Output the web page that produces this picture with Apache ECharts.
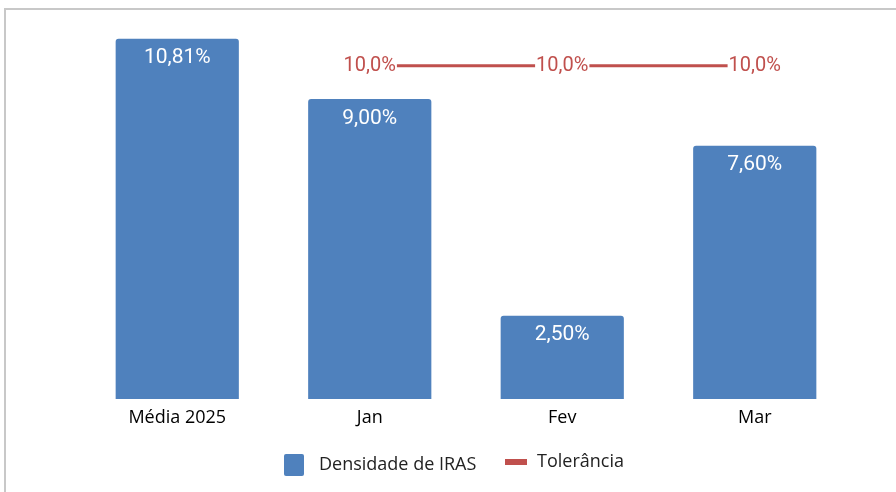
<!DOCTYPE html>
<html>
<head>
<meta charset="utf-8">
<script src="https://cdn.jsdelivr.net/npm/echarts@6/dist/echarts.min.js"></script>
<style>
  html, body { margin: 0; padding: 0; background: #fff; }
  #frame { position: absolute; left: 4px; top: 8px; width: 900px; height: 500px; border: 2px solid #c8c8c8; box-sizing: border-box; }
  #main { position: absolute; left: 0; top: 0; width: 896px; height: 492px; }
</style>
</head>
<body>
<div id="frame"></div>
<div id="main"></div>
<script>
var categories = ['Média 2025', 'Jan', 'Fev', 'Mar'];
var densidade = [10.81, 9.00, 2.50, 7.60];
var tolerancia = [null, 10.0, 10.0, 10.0];

var chart = echarts.init(document.getElementById('main'));

function pct(v, d) {
  return v.toFixed(d).replace('.', ',') + '%';
}

var txtFont = 'Open Sans';

var option = {
  animation: false,
  grid: {
    left: 81,
    right: 45,
    top: 19,
    bottom: 93
  },
  xAxis: {
    type: 'category',
    data: categories,
    axisLine: { show: false },
    axisTick: { show: false },
    axisLabel: {
      color: '#000',
      fontFamily: txtFont,
      fontSize: 18,
      margin: 10
    }
  },
  yAxis: {
    type: 'value',
    min: 0,
    max: 11.4,
    show: false,
    splitLine: { show: false }
  },
  legend: [{
    data: ['Densidade de IRAS'],
    left: 279,
    top: 449,
    itemWidth: 20,
    itemHeight: 22,
    icon: 'path://M2,0 L18,0 Q20,0 20,2 L20,20 Q20,22 18,22 L2,22 Q0,22 0,20 L0,2 Q0,0 2,0 Z',
    textStyle: {
      color: '#222',
      fontFamily: txtFont,
      fontSize: 18,
      padding: [0, 0, 0, 10]
    }
  }, {
    data: ['Tolerância'],
    left: 500,
    top: 448,
    itemWidth: 22,
    itemHeight: 6,
    icon: 'rect',
    textStyle: {
      color: '#222',
      fontFamily: txtFont,
      fontSize: 18,
      padding: [0, 0, 0, 5]
    }
  }],
  series: [{
    name: 'Densidade de IRAS',
    type: 'bar',
    barWidth: '64%',
    data: densidade,
    itemStyle: {
      color: '#4F81BD',
      borderRadius: [3, 3, 0, 0]
    },
    label: {
      show: true,
      position: 'insideTop',
      distance: 9,
      color: '#fff',
      fontFamily: 'Roboto',
      fontSize: 21,
      formatter: function (p) { return pct(p.value, 2); }
    }
  }, {
    name: 'Tolerância',
    type: 'line',
    data: tolerancia,
    symbol: 'circle',
    symbolSize: 1,
    color: '#C0504D',
    lineStyle: { color: '#C0504D', width: 3 },
    label: {
      show: true,
      position: 'inside',
      color: '#C0504D',
      fontFamily: 'Roboto',
      fontSize: 20,
      backgroundColor: '#fff',
      padding: [1, 1],
      formatter: function (p) { return pct(p.value, 1); }
    }
  }]
};

chart.setOption(option);
</script>
</body>
</html>
